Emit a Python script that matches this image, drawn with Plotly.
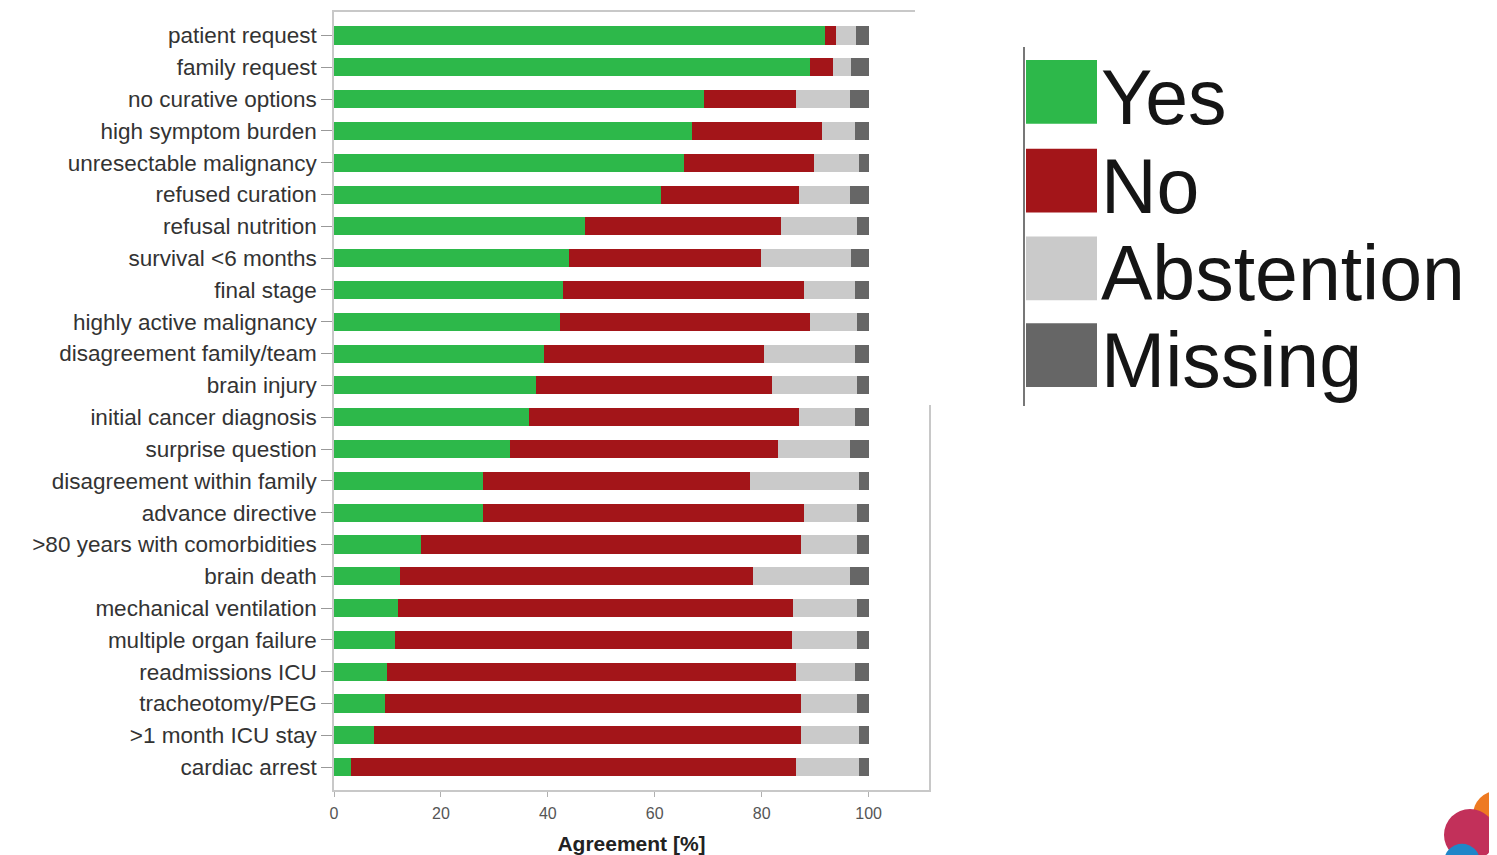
import plotly.graph_objects as go

categories = [
    "patient request", "family request", "no curative options", "high symptom burden",
    "unresectable malignancy", "refused curation", "refusal nutrition", "survival <6 months",
    "final stage", "highly active malignancy", "disagreement family/team", "brain injury",
    "initial cancer diagnosis", "surprise question", "disagreement within family",
    "advance directive", ">80 years with comorbidities", "brain death",
    "mechanical ventilation", "multiple organ failure", "readmissions ICU",
    "tracheotomy/PEG", ">1 month ICU stay", "cardiac arrest",
]
yes = [91.9, 89.1, 69.3, 66.9, 65.4, 61.1, 47.0, 43.9, 42.8, 42.3, 39.2, 37.8,
       36.4, 32.9, 27.9, 27.9, 16.2, 12.4, 12.0, 11.5, 9.9, 9.5, 7.5, 3.2]
no = [2.0, 4.2, 17.2, 24.3, 24.3, 25.9, 36.7, 35.9, 45.2, 46.8, 41.3, 44.1,
      50.5, 50.1, 49.9, 60.1, 71.1, 66.0, 73.8, 74.1, 76.6, 77.8, 79.8, 83.3]
abstention = [3.7, 3.4, 10.0, 6.3, 8.5, 9.5, 14.2, 16.9, 9.5, 8.8, 17.0, 16.0,
              10.6, 13.5, 20.4, 9.9, 10.6, 18.1, 12.1, 12.3, 11.0, 10.6, 10.9, 11.7]
missing = [2.4, 3.3, 3.5, 2.5, 1.8, 3.5, 2.1, 3.3, 2.5, 2.1, 2.5, 2.1,
           2.5, 3.5, 1.8, 2.1, 2.1, 3.5, 2.1, 2.1, 2.5, 2.1, 1.8, 1.8]

series_names = ["Yes", "No", "Abstention", "Missing"]
series_values = [yes, no, abstention, missing]
series_colors = ["#2db84a", "#a31519", "#cacaca", "#666666"]
x_ticks = [0, 20, 40, 60, 80, 100]

FONT = "Liberation Sans, Arial, Helvetica, sans-serif"

# page body has an 8px margin; work in reference pixel coords and offset
OFF = 8
W, H = 1497 - OFF, 855 - OFF
L, R, T, B = 334 - OFF, 929 - OFF, 10 - OFF, 790 - OFF


def px_x(x):
    return (x - OFF - L) / (R - L)


def px_y(y):
    return (B - (y - OFF)) / (B - T)


fig = go.Figure()
for name, vals, col in zip(series_names, series_values, series_colors):
    fig.add_trace(go.Bar(
        y=categories, x=vals, name=name, orientation="h",
        marker=dict(color=col, line=dict(width=0)),
        showlegend=False,
    ))

shapes = []
annotations = []

# white patch covering top-right of frame (legend image overlay)
shapes.append(dict(type="rect", xref="paper", yref="paper", layer="above",
                   x0=px_x(915), x1=px_x(1510), y0=px_y(404), y1=px_y(-5),
                   fillcolor="white", line=dict(width=0)))
# legend vertical rule
shapes.append(dict(type="line", xref="paper", yref="paper", layer="above",
                   x0=px_x(1024), x1=px_x(1024), y0=px_y(405), y1=px_y(45),
                   line=dict(color="#777777", width=2)))

sq_tops = [58, 147, 235, 322]
for name, col, top in zip(series_names, series_colors, sq_tops):
    shapes.append(dict(type="rect", xref="paper", yref="paper", layer="above",
                       x0=px_x(1026), x1=px_x(1097), y0=px_y(top + 64), y1=px_y(top),
                       fillcolor=col, line=dict(width=0)))
    annotations.append(dict(xref="paper", yref="paper", x=px_x(1099), y=px_y(top + 37),
                            text=name, showarrow=False, xanchor="left", yanchor="middle",
                            font=dict(family=FONT, size=77, color="#151515")))

# decorative logo corner
for cx, cy, r, c in [(1497, 815, 24, "#ee7a22"), (1470, 835, 26, "#c2305a"),
                     (1462, 862, 18, "#1f86c8")]:
    shapes.append(dict(type="circle", xref="paper", yref="paper", layer="above",
                       x0=px_x(cx - r), x1=px_x(cx + r), y0=px_y(cy + r), y1=px_y(cy - r),
                       fillcolor=c, line=dict(width=0)))

fig.update_layout(
    barmode="stack",
    bargap=0.43,
    width=W, height=H,
    margin=dict(l=L, r=W - R, t=T, b=H - B, pad=0),
    paper_bgcolor="white", plot_bgcolor="white",
    font=dict(family=FONT),
    shapes=shapes,
    annotations=annotations,
    xaxis=dict(
        range=[0, 111.3], tickvals=x_ticks, ticktext=[str(v) for v in x_ticks],
        showgrid=False, zeroline=False,
        showline=True, mirror=True, linecolor="#c8c8c8", linewidth=1.5,
        ticks="outside", ticklen=5, tickcolor="#b0b0b0", tickwidth=1,
        ticklabelstandoff=3,
        tickfont=dict(family=FONT, size=16, color="#555555"),
        title=dict(text="<b>Agreement [%]</b>", standoff=16,
                   font=dict(family=FONT, size=21, color="#222222")),
    ),
    yaxis=dict(
        type="category", range=[23.72, -0.74],
        showgrid=False, zeroline=False,
        showline=True, mirror=True, linecolor="#c8c8c8", linewidth=1.5,
        ticks="outside", ticklen=11, tickcolor="#999999", tickwidth=1,
        tickfont=dict(family=FONT, size=22.5, color="#333333"),
    ),
)

fig.write_html("out.html")
